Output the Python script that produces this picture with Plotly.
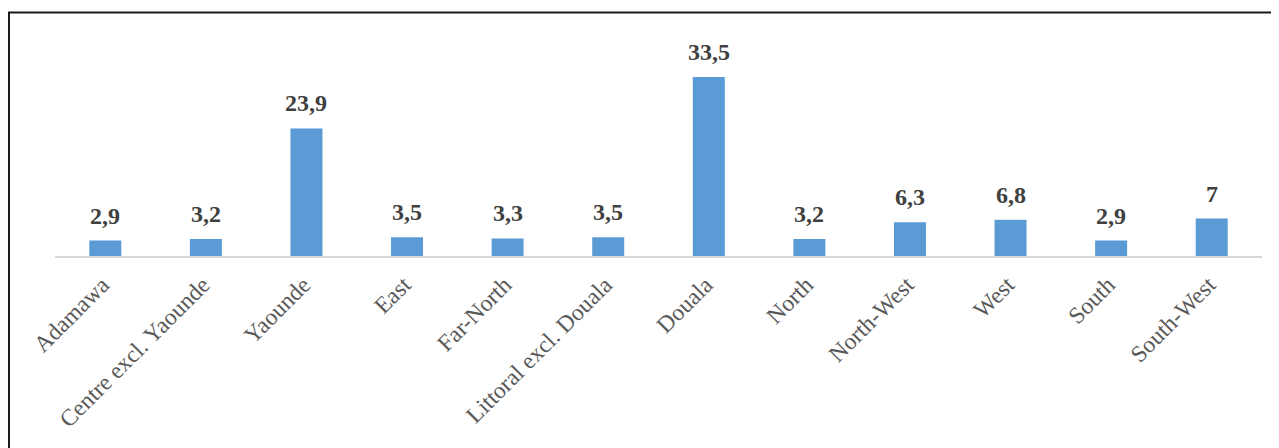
import plotly.graph_objects as go

regions = ["Adamawa", "Centre excl. Yaounde", "Yaounde", "East", "Far-North",
           "Littoral excl. Douala", "Douala", "North", "North-West", "West",
           "South", "South-West"]
values = [2.9, 3.2, 23.9, 3.5, 3.3, 3.5, 33.5, 3.2, 6.3, 6.8, 2.9, 7.0]
value_labels = ["2,9", "3,2", "23,9", "3,5", "3,3", "3,5", "33,5", "3,2", "6,3", "6,8", "2,9", "7"]

# page has an 8px body margin, so the figure is drawn offset by (8, 8)
OFF = 8
W, H = 1279 - OFF, 448 - OFF
L, T = 55 - OFF, 40 - OFF
pw, ph = 1207, 216
R, B = W - L - pw, H - T - ph

def px(x):
    return (x - OFF - L) / pw

def py(y):
    return (H - B - (y - OFF)) / ph

fig = go.Figure()
fig.add_trace(go.Bar(
    x=regions, y=values,
    marker=dict(color="#5b9bd5", line=dict(width=0)),
    hoverinfo="x+y",
))

for r, v, t in zip(regions, values, value_labels):
    fig.add_annotation(
        x=r, y=v, text=f"<b>{t}</b>", showarrow=False,
        yanchor="bottom", yshift=10,
        font=dict(family="Liberation Serif", size=24, color="#404040"),
    )

line_col = "#1a1a1a"
fig.add_shape(type="line", xref="paper", yref="paper",
              x0=px(9), x1=px(9), y0=py(470), y1=py(12.5),
              line=dict(color=line_col, width=2))
fig.add_shape(type="line", xref="paper", yref="paper",
              x0=px(8), x1=px(1300), y0=py(12.5), y1=py(12.5),
              line=dict(color=line_col, width=2))

fig.update_layout(
    width=W, height=H,
    margin=dict(l=L, r=R, t=T, b=B, pad=0),
    paper_bgcolor="white", plot_bgcolor="white",
    bargap=0.682,
    showlegend=False,
    xaxis=dict(
        tickangle=-45,
        tickfont=dict(family="Liberation Serif", size=23.5, color="#595959"),
        ticklabelstandoff=4, ticklabelshift=-3,
        showline=True, linecolor="#d9d9d9", linewidth=1.5,
        ticks="", showgrid=False, zeroline=False,
    ),
    yaxis=dict(
        range=[0, 40.45], visible=False, showgrid=False, zeroline=False,
    ),
)

fig.write_html("out.html")
